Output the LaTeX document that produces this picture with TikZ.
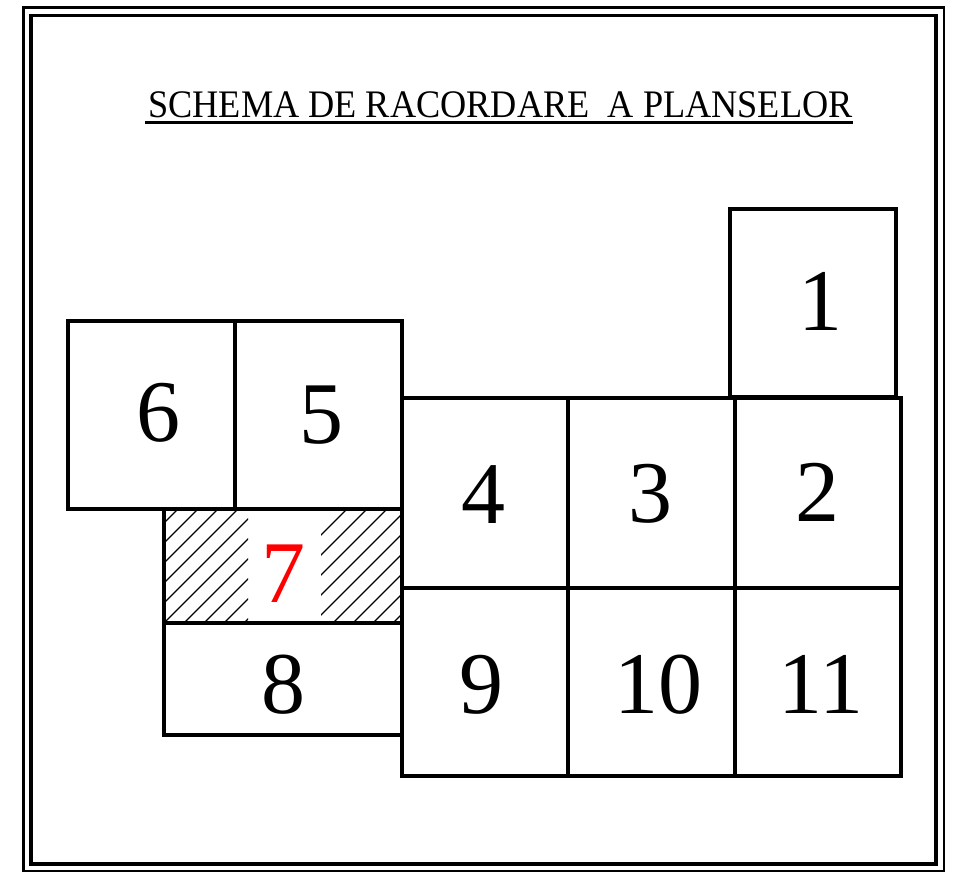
\documentclass[tikz,border=0pt]{standalone}
\usepackage{fontspec}
\setmainfont{Liberation Serif}
\begin{document}
\begin{tikzpicture}[x=1pt,y=-1pt,
  sheet/.style={draw=black,line width=3.3pt},
  outerframe/.style={draw=black,line width=2.8pt},
  innerframe/.style={draw=black,line width=3.6pt},
  num/.style={anchor=base,inner sep=0pt,font=\fontsize{88}{88}\selectfont},
  hatchline/.style={draw=black,line width=1.1pt}]
\useasboundingbox (0,0) rectangle (954,876);
% double frame
\draw[outerframe] (23.5,7.5) rectangle (944,871);
\draw[innerframe] (31,15.5) rectangle (936,864);
% title
\node[anchor=base,inner sep=0pt,font=\fontsize{39}{39}\selectfont] (title) at (500.5,117)
  {\scalebox{0.93}[1]{SCHEMA DE RACORDARE\ \ A PLANSELOR}};
\draw[line width=3pt] (145,122.5) -- (853,122.5);
% hatch of sheet 7
\begin{scope}
  \clip (164,509) rectangle (248,623);
  \foreach \i in {-120,-100,...,100} \draw[hatchline] (164+\i,623) -- ++(130,-130);
\end{scope}
\begin{scope}
  \clip (321,509) rectangle (402,623);
  \foreach \i in {-100,-80,...,100} \draw[hatchline] (321+\i+12,623) -- ++(130,-130);
\end{scope}
% sheets
\draw[sheet] (730,209) rectangle (896,397);
\draw[sheet] (68,321) rectangle (235,509);
\draw[sheet] (235,321) rectangle (402,509);
\draw[sheet] (164,509) rectangle (402,623);
\draw[sheet] (164,623) rectangle (402,735);
\draw[sheet] (402,398) rectangle (568,588);
\draw[sheet] (568,398) rectangle (735,588);
\draw[sheet] (735,398) rectangle (901,588);
\draw[sheet] (402,588) rectangle (568,776);
\draw[sheet] (568,588) rectangle (735,776);
\draw[sheet] (735,588) rectangle (901,776);
% numbers
\node[num] (n1) at (820,330) {1};
\node[num] (n2) at (817,521) {2};
\node[num] (n3) at (650,522) {3};
\node[num] (n4) at (483,523) {4};
\node[num] (n5) at (321,443) {5};
\node[num] (n6) at (158,441) {6};
\node[num,text=red] (n7) at (283,602) {7};
\node[num] (n8) at (283,713) {8};
\node[num] (n9) at (481,713) {9};
\node[num] (n10) at (658,713) {10};
\node[num] (n11) at (821,713) {11};
\end{tikzpicture}
\end{document}
